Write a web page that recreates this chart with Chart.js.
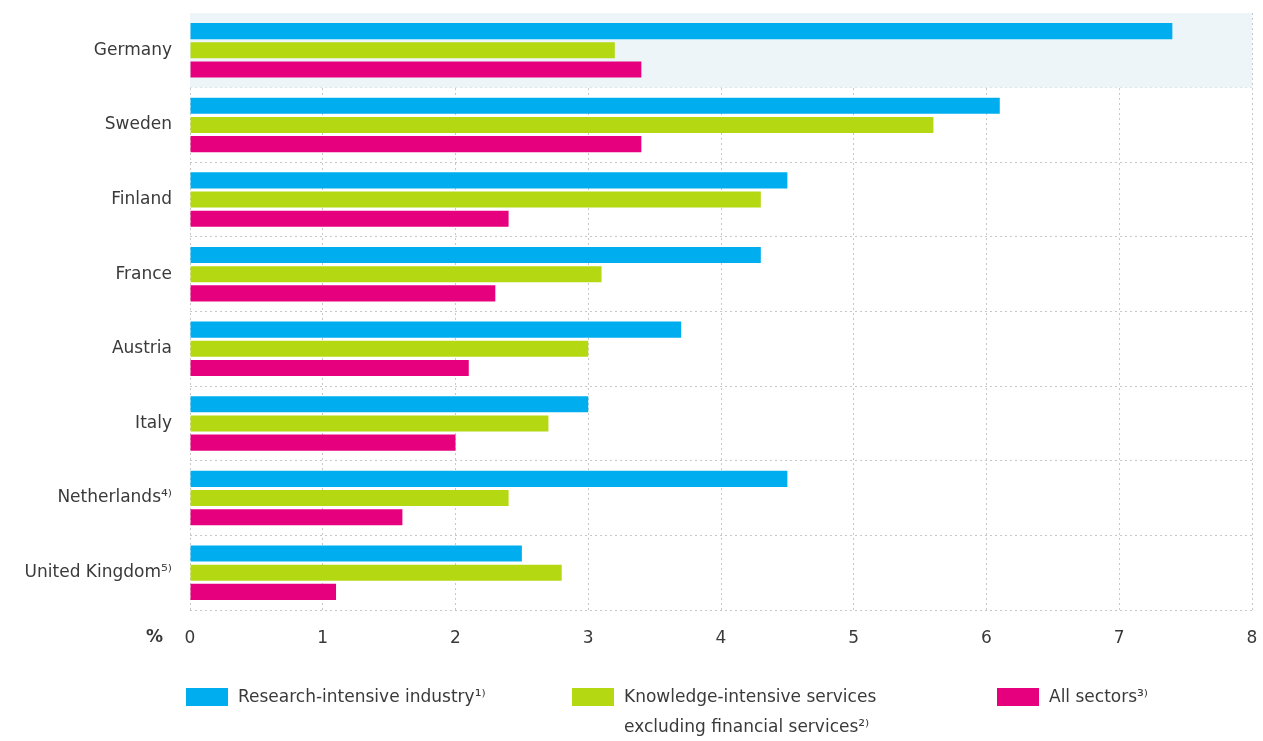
<!DOCTYPE html>
<html>
<head>
<meta charset="utf-8">
<script src="https://cdn.jsdelivr.net/npm/chart.js@4"></script>
<style>
  html, body { margin: 0; padding: 0; background: #fff; }
  #wrap { width: 1263px; height: 741px; }
</style>
</head>
<body>
<div id="wrap"><canvas id="shareChart" width="1263" height="741"></canvas></div>
<script>
// countries (top to bottom)
const countries = ['Germany', 'Sweden', 'Finland', 'France', 'Austria', 'Italy', 'Netherlands⁴⁾', 'United Kingdom⁵⁾'];

// series values in %
const researchIndustry = [7.4, 6.1, 4.5, 4.3, 3.7, 3.0, 4.5, 2.5];
const knowledgeServices = [3.2, 5.6, 4.3, 3.1, 3.0, 2.7, 2.4, 2.8];
const allSectors = [3.4, 3.4, 2.4, 2.3, 2.1, 2.0, 1.6, 1.1];

const xTicks = [0, 1, 2, 3, 4, 5, 6, 7, 8];

const FONT = '"DejaVu Sans", sans-serif';
const TEXT = '#3a3a3a';

// light band behind Germany + "%" label + legend
const extras = {
    id: 'extras',
    beforeDatasetsDraw(chart) {
        const { ctx, chartArea, scales } = chart;
        const y = scales.y;
        const band = (y.getPixelForValue(1) - y.getPixelForValue(0));
        const top = y.getPixelForValue(0) - band / 2;
        ctx.save();
        ctx.fillStyle = '#edf5f8';
        ctx.fillRect(chartArea.left, top, chartArea.right - chartArea.left, band);
        ctx.restore();
    },
    afterDraw(chart) {
        const { ctx } = chart;
        ctx.save();
        ctx.fillStyle = TEXT;
        ctx.font = 'bold 17px ' + FONT;
        ctx.textBaseline = 'middle';
        ctx.textAlign = 'right';
        ctx.fillText('%', 163, 638);

        ctx.font = '17px ' + FONT;
        ctx.textAlign = 'left';
        const items = [
            { color: '#00aeef', x: 186, lines: ['Research-intensive industry¹⁾'] },
            { color: '#b4d812', x: 572, lines: ['Knowledge-intensive services', 'excluding financial services²⁾'] },
            { color: '#e6007e', x: 997, lines: ['All sectors³⁾'] }
        ];
        items.forEach(it => {
            ctx.fillStyle = it.color;
            ctx.fillRect(it.x, 688, 42, 18);
            ctx.fillStyle = TEXT;
            it.lines.forEach((t, i) => ctx.fillText(t, it.x + 52, 698 + i * 30));
        });
        ctx.restore();
    }
};

const ctx = document.getElementById('shareChart').getContext('2d');

new Chart(ctx, {
    type: 'bar',
    data: {
        labels: countries,
        datasets: [
            { label: 'Research-intensive industry', data: researchIndustry, backgroundColor: '#00aeef' },
            { label: 'Knowledge-intensive services excluding financial services', data: knowledgeServices, backgroundColor: '#b4d812' },
            { label: 'All sectors', data: allSectors, backgroundColor: '#e6007e' }
        ]
    },
    options: {
        indexAxis: 'y',
        responsive: false,
        animation: false,
        categoryPercentage: 0.77,
        barPercentage: 0.84,
        layout: { padding: { top: 13, right: 11, left: 0, bottom: 0 } },
        plugins: {
            legend: { display: false },
            tooltip: { enabled: false }
        },
        scales: {
            x: {
                min: 0,
                max: 8,
                afterBuildTicks: scale => { scale.ticks = xTicks.map(v => ({ value: v })); },
                afterFit: scale => {
                    scale.height = 131;
                    scale.paddingLeft = 0;
                    scale.paddingRight = 0;
                },
                grid: { color: '#c8c8c8', drawTicks: false },
                border: { display: false, dash: [2, 3] },
                ticks: {
                    padding: 18,
                    color: TEXT,
                    font: { family: FONT, size: 17 }
                }
            },
            y: {
                afterFit: scale => {
                    scale.width = 190;
                    scale.paddingTop = 0;
                    scale.paddingBottom = 0;
                },
                grid: { color: '#c8c8c8', drawTicks: false, offset: true },
                border: { display: false, dash: [2, 3] },
                ticks: {
                    padding: 18,
                    color: TEXT,
                    font: { family: FONT, size: 17 }
                }
            }
        }
    },
    plugins: [extras]
});
</script>
</body>
</html>
